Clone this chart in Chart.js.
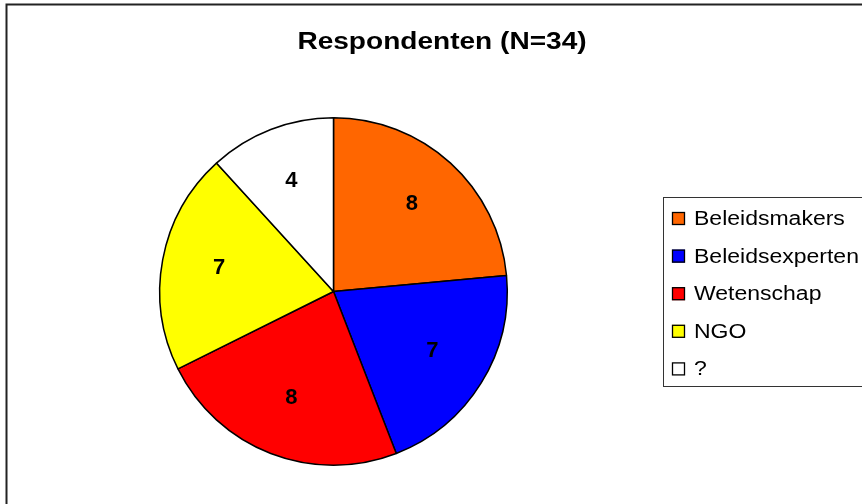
<!DOCTYPE html>
<html>
<head>
<meta charset="utf-8">
<script src="https://cdn.jsdelivr.net/npm/chart.js@4/dist/chart.umd.min.js"></script>
<style>
  html, body { margin: 0; padding: 0; background: #fff; }
  canvas { display: block; }
</style>
</head>
<body>
<canvas id="c" width="862" height="504"></canvas>
<script>
const chartTitle = "Respondenten (N=34)";
const categories = ["Beleidsmakers", "Beleidsexperten", "Wetenschap", "NGO", "?"];
const counts = [8, 7, 8, 7, 4];
const sliceColors = ["#FF6600", "#0000FF", "#FF0000", "#FFFF00", "#FFFFFF"];

const FONT = '"Liberation Sans", Arial, Helvetica, sans-serif';

function stretchedText(ctx, text, x, y, align, sx) {
  ctx.save();
  ctx.translate(x, y);
  ctx.scale(sx, 1);
  ctx.textAlign = align;
  ctx.fillText(text, 0, 0);
  ctx.restore();
}

const decorPlugin = {
  id: 'decor',
  beforeDraw(chart) {
    const ctx = chart.ctx;
    ctx.save();
    ctx.fillStyle = '#fff';
    ctx.fillRect(0, 0, chart.width, chart.height);
    ctx.strokeStyle = '#222';
    ctx.lineWidth = 2;
    ctx.beginPath();
    ctx.moveTo(6.5, chart.height + 5);
    ctx.lineTo(6.5, 4.5);
    ctx.lineTo(chart.width + 5, 4.5);
    ctx.stroke();
    ctx.restore();
  },
  afterDatasetsDraw(chart) {
    const ctx = chart.ctx;
    const meta = chart.getDatasetMeta(0);
    const values = chart.data.datasets[0].data;
    ctx.save();
    ctx.fillStyle = '#000';
    ctx.font = 'bold 22px ' + FONT;
    ctx.textBaseline = 'middle';
    meta.data.forEach((arc, i) => {
      const p = arc.getProps(['x', 'y', 'startAngle', 'endAngle', 'outerRadius'], true);
      const mid = (p.startAngle + p.endAngle) / 2;
      const r = p.outerRadius * 0.67;
      const lx = p.x + Math.cos(mid) * r;
      const ly = p.y + Math.sin(mid) * r;
      stretchedText(ctx, String(values[i]), lx, ly - 2, 'center', 1.0);
    });
    ctx.font = 'bold 23px ' + FONT;
    stretchedText(ctx, chartTitle, 442, 43, 'center', 1.22);
    ctx.strokeStyle = '#333';
    ctx.lineWidth = 1;
    ctx.strokeRect(663.5, 197.5, 220, 189);
    ctx.font = '20px ' + FONT;
    const labels = chart.data.labels;
    const colors = chart.data.datasets[0].backgroundColor;
    labels.forEach((lab, i) => {
      const cy = 218.5 + i * 37.6;
      ctx.fillStyle = colors[i];
      ctx.fillRect(672, cy - 6.5, 13, 13);
      ctx.strokeStyle = '#000';
      ctx.lineWidth = 1.3;
      ctx.strokeRect(672.5, cy - 6, 12, 12);
      ctx.fillStyle = '#000';
      stretchedText(ctx, lab, 694, cy + 1, 'left', 1.15);
    });
    ctx.restore();
  }
};

new Chart(document.getElementById('c'), {
  type: 'pie',
  data: {
    labels: categories,
    datasets: [{
      data: counts,
      backgroundColor: sliceColors,
      borderColor: '#000',
      borderWidth: 1.5,
      borderAlign: 'center'
    }]
  },
  options: {
    responsive: false,
    animation: false,
    layout: { padding: { left: 159, top: 117, right: 354, bottom: 38 } },
    plugins: {
      legend: { display: false },
      title: { display: false },
      tooltip: { enabled: false }
    }
  },
  plugins: [decorPlugin]
});
</script>
</body>
</html>
